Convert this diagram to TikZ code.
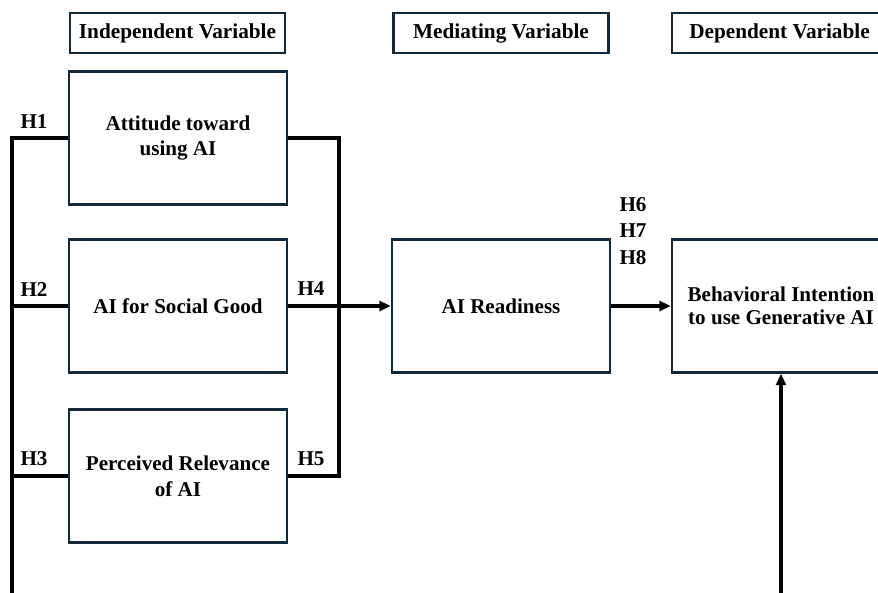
\documentclass[tikz,border=0pt]{standalone}
\usepackage{fontspec}
\setmainfont{Liberation Serif}
\usetikzlibrary{arrows.meta}
\definecolor{boxline}{HTML}{102A3C}
\tikzset{
  varbox/.style={draw=boxline,line width=1.3pt,minimum width=4.36cm,minimum height=2.66cm,
    align=center,inner sep=0pt,font=\bfseries\fontsize{12}{14.6}\selectfont},
  headbox/.style={draw=boxline,line width=1.3pt,minimum width=4.3cm,minimum height=0.8cm,
    inner sep=0pt,font=\bfseries\fontsize{12.1}{13}\selectfont},
  hlabel/.style={inner sep=0pt,align=left,font=\bfseries\fontsize{12}{15.3}\selectfont},
  link/.style={line width=1.8pt},
  arrowlink/.style={link,-{Triangle[length=6.5pt,width=5.5pt]}}
}
\begin{document}
\begin{tikzpicture}[x=0.02cm,y=-0.02cm]
\useasboundingbox (0,0) rectangle (878,592);
\clip (0,0) rectangle (878,592);
% column headers
\node[headbox] (indep) at (177.5,33) {Independent Variable};
\node[headbox] (medi) at (501,33) {Mediating Variable};
\node[headbox] (dep) at (779.5,33) {Dependent Variable};
% variables
\node[varbox] (att) at (178,138) {Attitude toward\\using AI};
\node[varbox] (soc) at (178,306) {AI for Social Good};
\node[varbox] (perc) at (178,476) {Perceived Relevance\\of AI};
\node[varbox] (read) at (501,306) {AI Readiness};
\node[varbox,font=\bfseries\fontsize{12}{13}\selectfont] (beh) at (781,306) {Behavioral Intention\\to use Generative AI};
% hypotheses
\node[hlabel] (h1) at (34,122) {H1};
\node[hlabel] (h2) at (34,290) {H2};
\node[hlabel] (h3) at (34,459) {H3};
\node[hlabel] (h4) at (311,289) {H4};
\node[hlabel] (h5) at (311,459) {H5};
\node[hlabel] (h678) at (633,231) {H6\\H7\\H8};
% connectors
\coordinate (lt) at (12,138);
\coordinate (lb) at (12,640);
\coordinate (rj) at (339,138);
\draw[arrowlink] (att.west) -- (lt) -- (lb) -| (beh.south);
\draw[link] (soc.west) -- (soc.west -| lt);
\draw[link] (perc.west) -- (perc.west -| lt);
\draw[link] (att.east) -- (rj) |- (perc.east);
\draw[arrowlink] (soc.east) -- (read.west);
\draw[arrowlink] (read.east) -- (beh.west);
\end{tikzpicture}
\end{document}
